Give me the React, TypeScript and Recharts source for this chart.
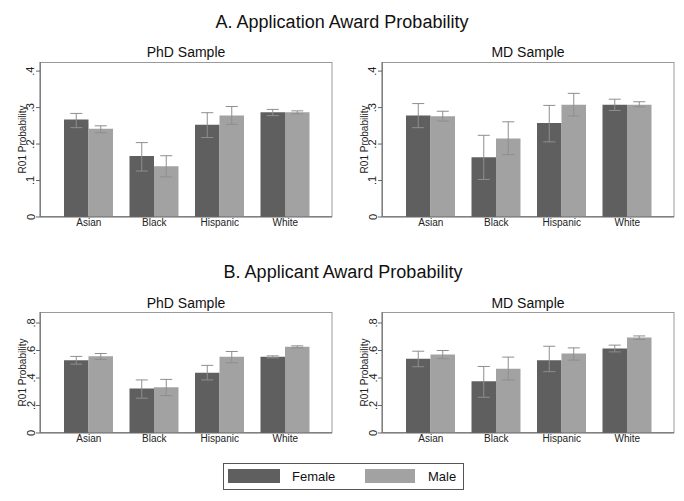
import React from 'react';
import { BarChart, Bar, XAxis, YAxis, ErrorBar } from 'recharts';

const categories = ['Asian', 'Black', 'Hispanic', 'White'];

// A. Application award probability
const appPhdFemale = [0.267, 0.167, 0.253, 0.287];
const appPhdFemaleCI = [[0.245, 0.284], [0.126, 0.204], [0.218, 0.286], [0.278, 0.295]];
const appPhdMale = [0.242, 0.139, 0.278, 0.287];
const appPhdMaleCI = [[0.231, 0.25], [0.11, 0.168], [0.254, 0.303], [0.283, 0.291]];
const appMdFemale = [0.278, 0.164, 0.258, 0.308];
const appMdFemaleCI = [[0.245, 0.311], [0.103, 0.224], [0.206, 0.306], [0.292, 0.323]];
const appMdMale = [0.276, 0.215, 0.308, 0.308];
const appMdMaleCI = [[0.263, 0.29], [0.171, 0.261], [0.277, 0.339], [0.302, 0.316]];

// B. Applicant award probability
const aptPhdFemale = [0.53, 0.323, 0.439, 0.554];
const aptPhdFemaleCI = [[0.501, 0.557], [0.253, 0.386], [0.386, 0.492], [0.547, 0.561]];
const aptPhdMale = [0.559, 0.333, 0.554, 0.627];
const aptPhdMaleCI = [[0.535, 0.578], [0.272, 0.39], [0.511, 0.593], [0.619, 0.634]];
const aptMdFemale = [0.54, 0.376, 0.53, 0.614];
const aptMdFemaleCI = [[0.482, 0.595], [0.26, 0.484], [0.446, 0.631], [0.59, 0.639]];
const aptMdMale = [0.571, 0.467, 0.578, 0.694];
const aptMdMaleCI = [[0.54, 0.6], [0.386, 0.552], [0.53, 0.619], [0.68, 0.706]];

const appTicks = [0, 0.1, 0.2, 0.3, 0.4];
const aptTicks = [0, 0.2, 0.4, 0.6, 0.8];

const FEMALE = '#5f5f5f';
const MALE = '#a2a2a2';
const ERR = '#8e8e8e';
const FONT = '"Liberation Sans", Arial, Helvetica, sans-serif';

const build = (f: number[], fci: number[][], m: number[], mci: number[][]) =>
  categories.map((c, i) => ({
    cat: c,
    female: f[i],
    femaleErr: [f[i] - fci[i][0], fci[i][1] - f[i]],
    male: m[i],
    maleErr: [m[i] - mci[i][0], mci[i][1] - m[i]],
  }));

const fmt = (v: number) => (v === 0 ? '0' : String(v).replace(/^0/, ''));

const YTick = (props: any) => {
  const { x, y, payload } = props;
  const tx = x - 1.5;
  return (
    <text
      x={tx}
      y={y}
      transform={`rotate(-90 ${tx} ${y})`}
      textAnchor="middle"
      fontSize={11}
      fontFamily={FONT}
      fill="#222"
    >
      {fmt(payload.value)}
    </text>
  );
};

type PanelProps = {
  data: any[];
  ticks: number[];
  max: number;
  left: number;
  top: number;
  plotH: number;
};

const Panel = ({ data, ticks, max, left, top, plotH }: PanelProps) => (
  <div style={{ position: 'absolute', left, top }}>
    <BarChart
      width={342}
      height={plotH + 23}
      data={data}
      margin={{ top: 1, right: 10, bottom: 0, left: 0 }}
      barGap={0}
    >
      <XAxis
        dataKey="cat"
        height={22}
        tickLine={false}
        tickSize={2}
        tickMargin={0}
        axisLine={{ stroke: '#666' }}
        padding={{ left: 16, right: 14 }}
        tick={{ fontSize: 10, fill: '#222', fontFamily: FONT }}
        interval={0}
      />
      <YAxis
        width={40}
        domain={[0, max]}
        ticks={ticks}
        interval={0}
        tickSize={4}
        tickMargin={0}
        axisLine={{ stroke: '#666' }}
        tickLine={{ stroke: '#666' }}
        tick={<YTick />}
        label={{
          value: 'R01 Probability',
          angle: -90,
          position: 'insideLeft',
          offset: 0,
          dx: 22,
          style: { textAnchor: 'middle', fontSize: 10, fill: '#222', fontFamily: FONT },
        }}
      />
      <Bar dataKey="female" fill={FEMALE} barSize={24.5} isAnimationActive={false}>
        <ErrorBar dataKey="femaleErr" width={6} stroke={ERR} strokeWidth={1} />
      </Bar>
      <Bar dataKey="male" fill={MALE} barSize={24.5} isAnimationActive={false}>
        <ErrorBar dataKey="maleErr" width={6} stroke={ERR} strokeWidth={1} />
      </Bar>
    </BarChart>
  </div>
);

export default function App() {
  const t = { fontFamily: FONT, fill: '#111' };
  return (
    <div style={{ position: 'absolute', left: 0, top: 0, width: 684, height: 501, background: '#fff' }}>
      <svg width={684} height={501} style={{ position: 'absolute', left: 0, top: 0 }}>
        <text x={342} y={28} textAnchor="middle" fontSize={18} {...t}>A. Application Award Probability</text>
        <text x={186} y={56.5} textAnchor="middle" fontSize={14} {...t}>PhD Sample</text>
        <text x={528} y={56.5} textAnchor="middle" fontSize={14} {...t}>MD Sample</text>
        <text x={343} y={277.5} textAnchor="middle" fontSize={18} {...t}>B. Applicant Award Probability</text>
        <text x={186} y={308} textAnchor="middle" fontSize={14} {...t}>PhD Sample</text>
        <text x={528} y={308} textAnchor="middle" fontSize={14} {...t}>MD Sample</text>
        {/* plot region frames */}
        <rect x={40.5} y={62.5} width={291.5} height={154} fill="none" stroke="#9a9a9a" />
        <rect x={382.5} y={62.5} width={291.5} height={154} fill="none" stroke="#9a9a9a" />
        <rect x={40.5} y={312.5} width={291.5} height={120} fill="none" stroke="#9a9a9a" />
        <rect x={382.5} y={312.5} width={291.5} height={120} fill="none" stroke="#9a9a9a" />
        <rect x={223.5} y={463.5} width={240} height={26} fill="#fff" stroke="#555" />
        <rect x={228} y={469} width={52} height={14} fill={FEMALE} />
        <text x={292} y={481} fontSize={13} {...t}>Female</text>
        <rect x={365} y={469} width={50} height={14} fill={MALE} />
        <text x={428} y={481} fontSize={13} {...t}>Male</text>
      </svg>
      <Panel data={build(appPhdFemale, appPhdFemaleCI, appPhdMale, appPhdMaleCI)} ticks={appTicks} max={0.425} left={0} top={61} plotH={155} />
      <Panel data={build(appMdFemale, appMdFemaleCI, appMdMale, appMdMaleCI)} ticks={appTicks} max={0.425} left={342} top={61} plotH={155} />
      <Panel data={build(aptPhdFemale, aptPhdFemaleCI, aptPhdMale, aptPhdMaleCI)} ticks={aptTicks} max={0.88} left={0} top={311} plotH={121} />
      <Panel data={build(aptMdFemale, aptMdFemaleCI, aptMdMale, aptMdMaleCI)} ticks={aptTicks} max={0.88} left={342} top={311} plotH={121} />
    </div>
  );
}
